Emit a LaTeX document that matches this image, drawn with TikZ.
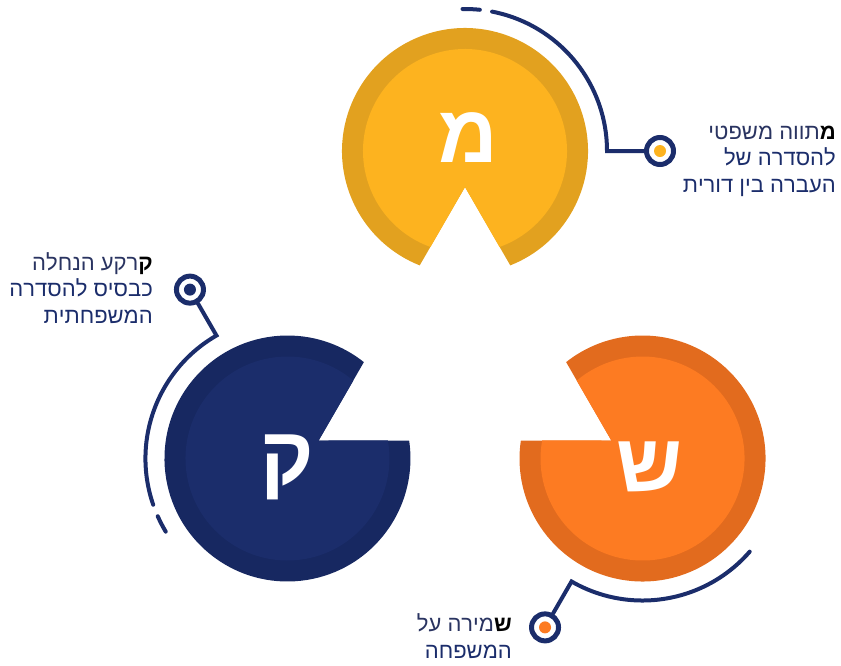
\documentclass[tikz,border=0pt]{standalone}
\usepackage{fontspec}
\setmainfont{Liberation Sans}
\TeXXeTstate=1
\usetikzlibrary{calc}

\definecolor{navy}{HTML}{1B2D6B}
\definecolor{navyring}{HTML}{172861}
\definecolor{gold}{HTML}{FDB31F}
\definecolor{goldring}{HTML}{E2A11F}
\definecolor{tangerine}{HTML}{FD7B22}
\definecolor{tangering}{HTML}{E26B1E}
\definecolor{labeltext}{HTML}{2A3461}

\tikzset{
  deco/.style={draw=navy, line width=4pt, line cap=round},
  pin/.style={circle, draw=navy, line width=5pt, minimum size=27pt, inner sep=0pt},
  dot/.style={circle, fill=#1, minimum size=12pt, inner sep=0pt},
  letter/.style={text=white, inner sep=0pt, font=\fontsize{82}{82}\selectfont\bfseries},
  note/.style={align=right, text=labeltext, inner sep=0pt, font=\fontsize{22}{26.5}\selectfont}
}

\begin{document}
\begin{tikzpicture}[x=1pt,y=1pt]
  \useasboundingbox (0,0) rectangle (841,-665);
  \coordinate (mid) at (465,-356);

  % three cut discs, each turned by 120 degrees
  \foreach \name/\t/\body/\rim in {M/0/gold/goldring, Q/120/navy/navyring, S/240/tangerine/tangering}{
    \coordinate (c-\name) at ($(mid)+(\t+90:205)$);
    \fill[\rim] ($(c-\name)+(\t-90:36)$) -- ($(c-\name)+(\t-68.4:123)$)
      arc[start angle=\t-68.4, end angle=\t+248.4, radius=123] -- cycle;
    \fill[\body] ($(c-\name)+(\t-90:36)$) -- ($(c-\name)+(\t-70.2:102)$)
      arc[start angle=\t-70.2, end angle=\t+250.2, radius=102] -- cycle;
    \node[pin] (pin-\name) at ($(c-\name)+(\t:195)$) {};
    \node[dot=\body] (dot-\name) at (pin-\name) {};
    \draw[deco] ($(c-\name)+(\t+79:142)$) arc[start angle=\t+79, end angle=\t, radius=142]
      coordinate (k-\name) -- (pin-\name);
  }
  \foreach \name/\t in {M/0, Q/120}
    \draw[deco] ($(c-\name)+(\t+84:142)$) arc[start angle=\t+84, end angle=\t+91, radius=142];

  % letters
  \node[letter] (mem) at (468,-138) {מ};
  \node[letter] (qof) at (287,-467) {ק};
  \node[letter] (shin) at (650,-467) {ש};

  % captions (anchored at the last line)
  \node[note, anchor=base east] (txt-M) at (836,-192)
    {\beginR\textcolor{navy}{\textbf{מ}}תווה משפטי\endR\\
     \beginR להסדרה של\endR\\
     \beginR העברה בין דורית\endR};
  \node[note, anchor=base east] (txt-Q) at (153,-323)
    {\beginR\textcolor{navy}{\textbf{ק}}רקע הנחלה\endR\\
     \beginR כבסיס להסדרה\endR\\
     \beginR המשפחתית\endR};
  \node[note, anchor=base east] (txt-S) at (512,-658)
    {\beginR\textcolor{navy}{\textbf{ש}}מירה על\endR\\
     \beginR המשפחה\endR};
\end{tikzpicture}
\end{document}
